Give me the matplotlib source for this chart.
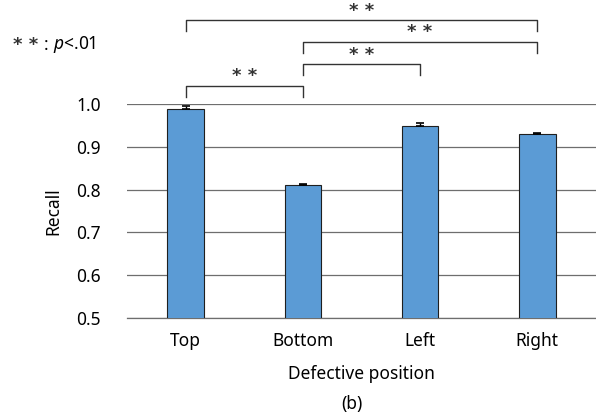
import numpy as np
import matplotlib.pyplot as plt

categories = ["Top", "Bottom", "Left", "Right"]
recall = [0.988, 0.811, 0.949, 0.930]
errors = [0.006, 0.003, 0.006, 0.002]
# significance pairs (index a, index b, bracket height)
pairs = [(0, 1, 1.042), (1, 2, 1.093), (1, 3, 1.145), (0, 3, 1.196)]

plt.rcParams['font.family'] = ['Noto Sans', 'DejaVu Sans']
plt.rcParams['mathtext.fontset'] = 'custom'
plt.rcParams['mathtext.it'] = 'Noto Sans:italic'
plt.rcParams['mathtext.rm'] = 'Noto Sans'

fs = 12.5
fig = plt.figure(figsize=(5.96, 4.19), dpi=100)
ax = fig.add_axes([0.213, 0.241, 0.787, 0.511])

x = np.arange(len(categories))
ax.bar(x, recall, width=0.31, color='#5B9BD5', edgecolor='#1f1f1f', linewidth=0.8, zorder=3)
ax.errorbar(x, recall, yerr=[[0]*4, errors], fmt='none', ecolor='black',
            elinewidth=1, capsize=3, capthick=1.2, zorder=4)

ax.set_xlim(-0.5, 3.5)
ax.set_ylim(0.5, 1.0)
ax.set_yticks([0.5, 0.6, 0.7, 0.8, 0.9, 1.0])
ax.set_yticklabels(["0.5", "0.6", "0.7", "0.8", "0.9", "1.0"], fontsize=fs)
ax.set_xticks(x)
ax.set_xticklabels(categories, fontsize=fs)
ax.tick_params(axis='y', length=0, pad=19)
ax.tick_params(axis='x', length=0, pad=10)
ax.yaxis.grid(True, color='#6e6e6e', linewidth=0.9, zorder=0)
ax.set_axisbelow(True)
for s in ['top', 'right', 'left']:
    ax.spines[s].set_visible(False)
ax.spines['bottom'].set_color('#6e6e6e')
ax.spines['bottom'].set_linewidth(0.9)

ax.set_ylabel("Recall", fontsize=fs, labelpad=10)
ax.set_xlabel("Defective position", fontsize=fs, labelpad=11)

drop = 0.025
for a, b, h in pairs:
    ax.plot([a, a, b, b], [h - drop, h, h, h - drop], color='#333333', lw=1, clip_on=False)
    ax.text((a + b) / 2, h + 0.001, "* *", ha='center', va='bottom', fontsize=13,
            family='DejaVu Sans', weight='bold', color='#333333')

fig.text(0.022, 0.893, "* *", fontsize=13, va='center', ha='left',
         family='DejaVu Sans', weight='bold', color='#333333')
fig.text(0.073, 0.893, ":", fontsize=fs, va='center', ha='left')
fig.text(0.089, 0.893, "$p$<.01", fontsize=fs, va='center', ha='left')
fig.text(0.59, 0.036, "(b)", fontsize=fs, ha='center', va='center')

fig.savefig("out.png", dpi=100)
